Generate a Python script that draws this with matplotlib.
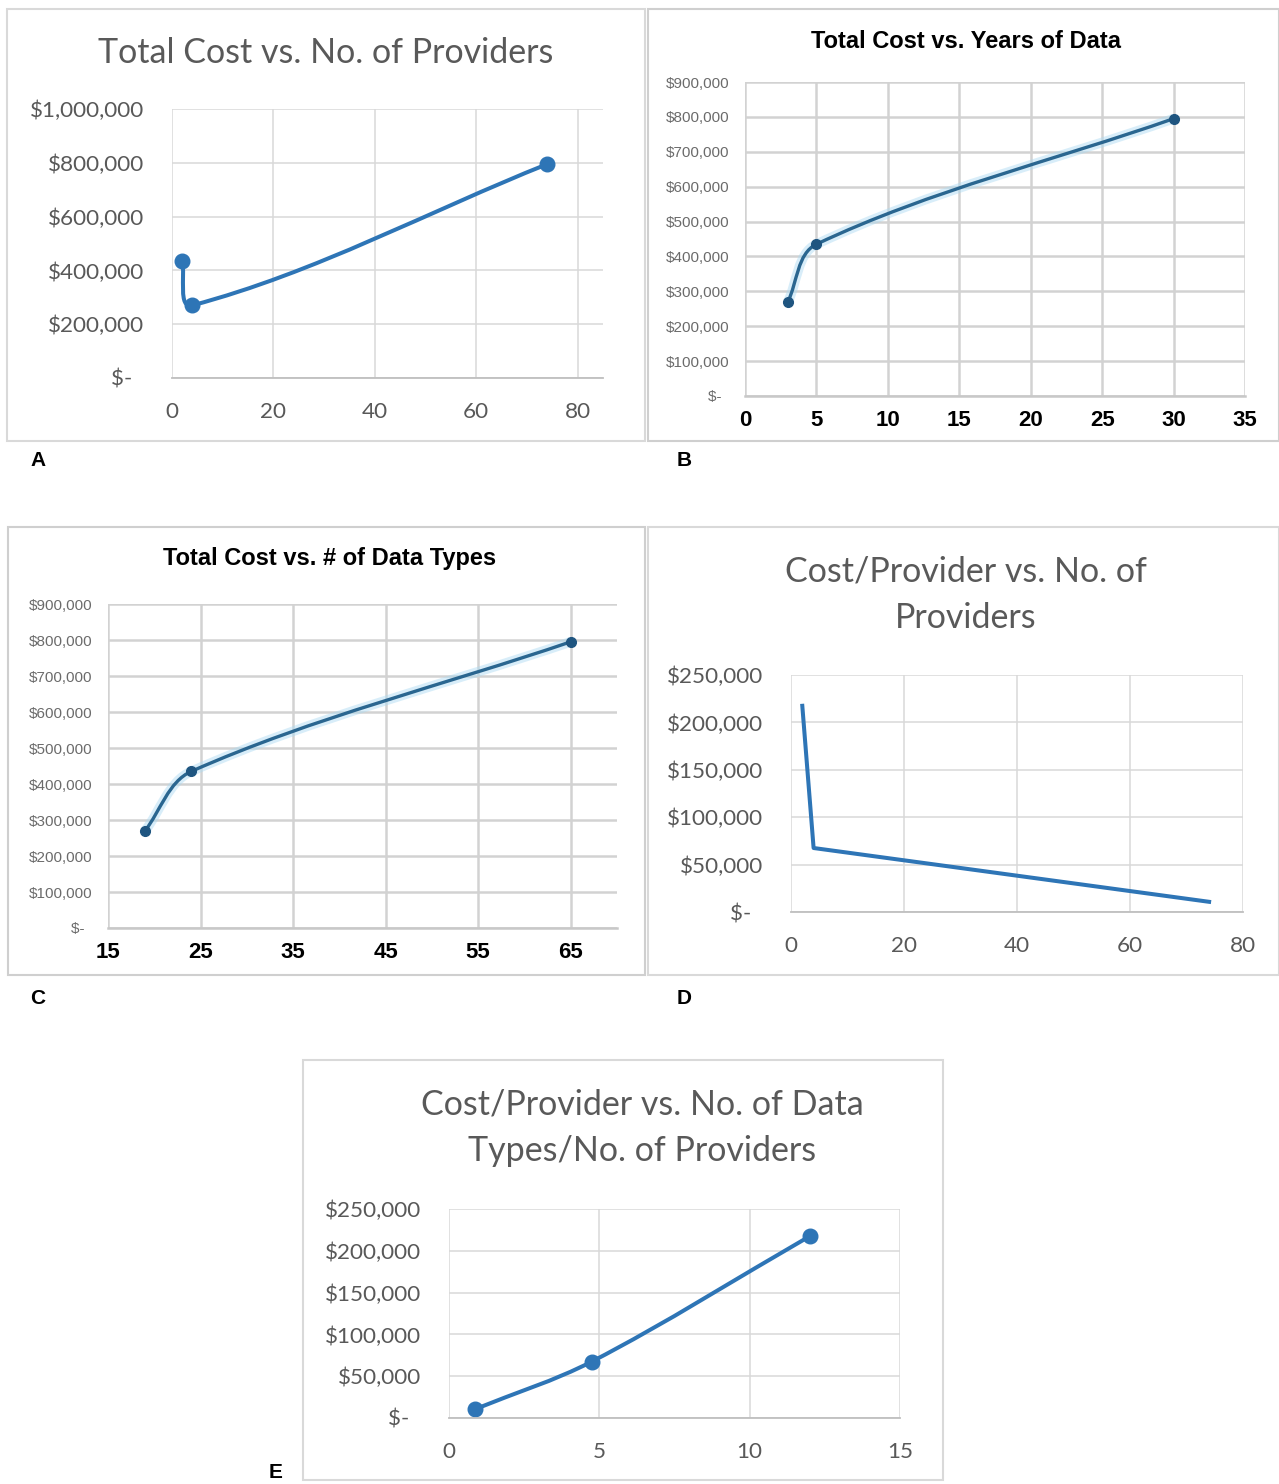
import matplotlib
matplotlib.use("Agg")
import matplotlib.pyplot as plt
import numpy as np
from matplotlib.path import Path
from matplotlib.patches import PathPatch, Rectangle
from matplotlib.ticker import FuncFormatter

# data
providers = [2, 4, 74]
total_cost = [435000, 270000, 795000]
years = [3, 5, 30]
cost_by_years = [270000, 435000, 795000]
data_types = [19, 24, 65]
cost_by_types = [270000, 435000, 795000]
cost_per_provider = [217500, 67500, 10743]
types_per_provider = [0.88, 4.75, 12]
cost_per_provider_e = [10743, 67500, 217500]

W, H = 1279, 1484
CAL = "Lato"
ARI = "Liberation Sans"
GREY = "#595959"
BLUE = "#2e75b6"

fig = plt.figure(figsize=(W / 100, H / 100), dpi=100, facecolor="white")


def rect(l, t, r, b):
    return [l / W, 1 - b / H, (r - l) / W, (b - t) / H]


def fy(y):
    return 1 - y / H


def money(v, pos):
    if v == 0:
        return "$-  "
    return "${:,.0f}".format(v)


def smooth_line(ax, xs, ys, **kw):
    """Excel-like smoothed line: bezier segments built in screen space."""
    pts = ax.transData.transform(np.column_stack([xs, ys]))
    n = len(pts)
    tang = []
    for i in range(n):
        if i == 0:
            d = pts[1] - pts[0]
        elif i == n - 1:
            d = pts[-1] - pts[-2]
        else:
            d = pts[i + 1] - pts[i - 1]
        tang.append(d / np.linalg.norm(d))
    verts = [pts[0]]
    codes = [Path.MOVETO]
    for i in range(n - 1):
        seg = np.linalg.norm(pts[i + 1] - pts[i])
        verts += [pts[i] + tang[i] * seg / 3, pts[i + 1] - tang[i + 1] * seg / 3, pts[i + 1]]
        codes += [Path.CURVE4] * 3
    verts = ax.transData.inverted().transform(np.array(verts))
    ax.add_patch(PathPatch(Path(verts, codes), fill=False, **kw))


def box(l, t, r, b, color="#d9d9d9"):
    fig.patches.append(Rectangle((l / W, fy(b)), (r - l) / W, (b - t) / H,
                                 transform=fig.transFigure, fill=False,
                                 edgecolor=color, lw=1.5))


def excel_axes(pos, xlim, ylim, xticks, yticks):
    ax = fig.add_axes(rect(*pos))
    ax.set_xlim(*xlim)
    ax.set_ylim(*ylim)
    ax.set_xticks(xticks)
    ax.set_yticks(yticks)
    ax.yaxis.set_major_formatter(FuncFormatter(money))
    for s in ["top", "right", "left"]:
        ax.spines[s].set_visible(False)
    ax.set_axisbelow(True)
    return ax


def style_light(ax):
    ax.grid(True, color="#d9d9d9", lw=1.1)
    ax.spines["bottom"].set_color("#bfbfbf")
    ax.spines["bottom"].set_linewidth(1.3)
    ax.tick_params(length=0, labelcolor=GREY, labelsize=16.2)
    ax.tick_params(axis="y", pad=20)
    ax.tick_params(axis="x", pad=17)
    for lab in ax.get_xticklabels() + ax.get_yticklabels():
        lab.set_family(CAL)


def style_bold(ax):
    ax.grid(True, color="#d2d2d2", lw=1.8)
    ax.spines["bottom"].set_color("#c8c8c8")
    ax.spines["bottom"].set_linewidth(1.8)
    ax.tick_params(length=0)
    ax.tick_params(axis="y", pad=11, labelsize=11, labelcolor="#6b6b6b")
    ax.tick_params(axis="x", pad=10, labelsize=16, labelcolor="black")
    for lab in ax.get_xticklabels():
        lab.set_family(ARI)
        lab.set_weight("bold")
    for lab in ax.get_yticklabels():
        lab.set_family(ARI)


# panel frames
box(7, 9, 645, 441)
box(648, 9, 1279, 441, "#cfcfcf")
box(8, 527, 645, 975, "#cfcfcf")
box(648, 527, 1279, 975)
box(303, 1060, 943, 1480)

# A
axA = excel_axes((172, 109, 603, 378), (0, 85), (0, 1000000),
                 [0, 20, 40, 60, 80], np.arange(0, 1000001, 200000))
style_light(axA)
smooth_line(axA, providers, total_cost, edgecolor=BLUE, lw=2.9, capstyle="round")
axA.plot(providers, total_cost, "o", color=BLUE, ms=10.5)
fig.text(326 / W, fy(53), "Total Cost vs. No. of Providers", family=CAL,
         size=24.5, color=GREY, ha="center", va="center")

# B
axB = excel_axes((745, 82, 1245, 396), (0, 35), (0, 900000),
                 np.arange(0, 36, 5), np.arange(0, 900001, 100000))
style_bold(axB)
smooth_line(axB, years, cost_by_years, edgecolor="#a9d9f2", lw=7, alpha=0.45)
smooth_line(axB, years, cost_by_years, edgecolor="#2a6690", lw=2.4)
axB.plot(years, cost_by_years, "o", color="#1f5580", ms=7)
fig.text(966 / W, fy(42), "Total Cost vs. Years of Data", family=ARI,
         weight="bold", size=17, color="black", ha="center", va="center")

# C
axC = excel_axes((108, 604, 617, 928), (15, 70), (0, 900000),
                 np.arange(15, 66, 10), np.arange(0, 900001, 100000))
style_bold(axC)
smooth_line(axC, data_types, cost_by_types, edgecolor="#a9d9f2", lw=7, alpha=0.45)
smooth_line(axC, data_types, cost_by_types, edgecolor="#2a6690", lw=2.4)
axC.plot(data_types, cost_by_types, "o", color="#1f5580", ms=7)
fig.text(330 / W, fy(559), "Total Cost vs. # of Data Types", family=ARI,
         weight="bold", size=17, color="black", ha="center", va="center")

# D
axD = excel_axes((791, 675, 1243, 912), (0, 80), (0, 250000),
                 [0, 20, 40, 60, 80], np.arange(0, 250001, 50000))
style_light(axD)
axD.plot(providers, cost_per_provider, color=BLUE, lw=2.9)
fig.text(966 / W, fy(595), "Cost/Provider vs. No. of\nProviders", family=CAL,
         size=24.5, color=GREY, ha="center", va="center", linespacing=1.55)

# E
axE = excel_axes((449, 1209, 900, 1418), (0, 15), (0, 250000),
                 [0, 5, 10, 15], np.arange(0, 250001, 50000))
style_light(axE)
smooth_line(axE, types_per_provider, cost_per_provider_e, edgecolor=BLUE, lw=2.9)
axE.plot(types_per_provider, cost_per_provider_e, "o", color=BLUE, ms=10.5)
fig.text(642 / W, fy(1128), "Cost/Provider vs. No. of Data\nTypes/No. of Providers",
         family=CAL, size=24.5, color=GREY, ha="center", va="center", linespacing=1.55)

# panel letters
for letter, x, y in [("A", 38, 460), ("B", 684, 460), ("C", 38, 998),
                     ("D", 684, 998), ("E", 276, 1472)]:
    fig.text(x / W, fy(y), letter, family=ARI, weight="bold", size=15,
             ha="center", va="center")

fig.savefig("out.png", dpi=100, facecolor="white")
